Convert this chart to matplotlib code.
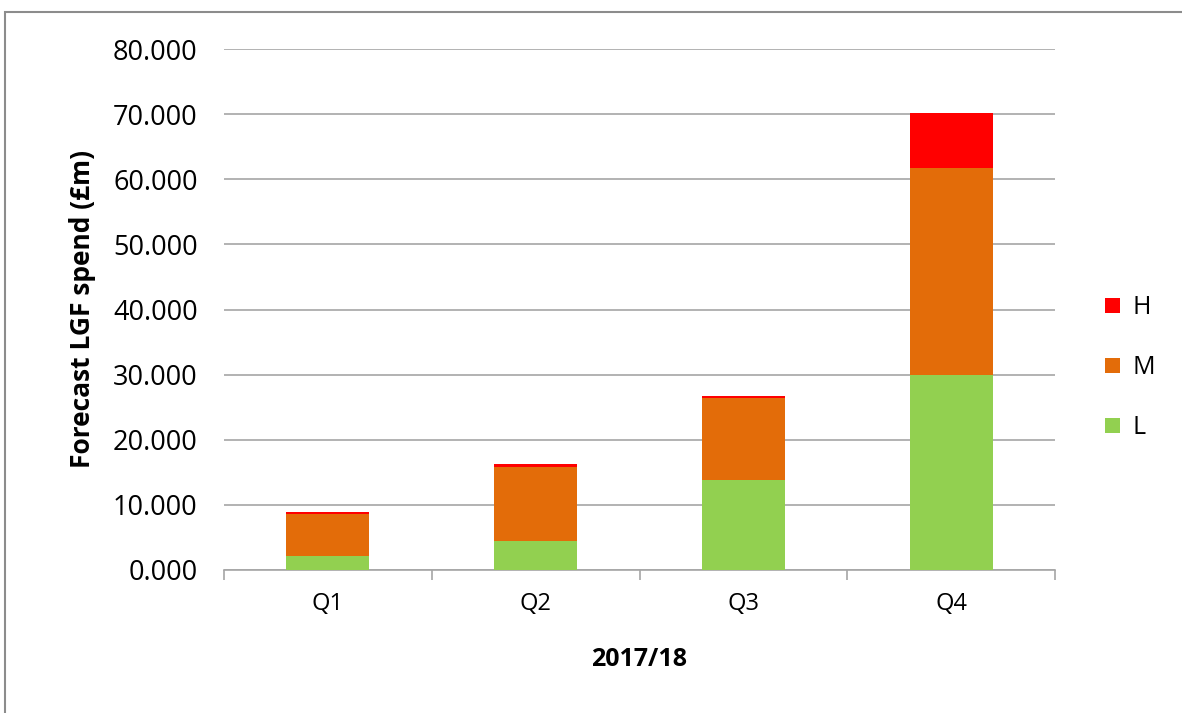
import matplotlib.pyplot as plt
from matplotlib.patches import Rectangle
import numpy as np

quarters = ['Q1', 'Q2', 'Q3', 'Q4']
low = [2.15, 4.4, 13.8, 29.9]
medium = [6.5, 11.4, 12.65, 31.8]
high = [0.3, 0.45, 0.3, 8.4]

plt.rcParams['font.family'] = ['Open Sans', 'DejaVu Sans']

fig = plt.figure(figsize=(11.82, 7.13), dpi=100)
ax = fig.add_axes([224 / 1182, 1 - 570 / 713, (1055 - 224) / 1182, (570 - 49) / 713])

# outer chart frame
fig.patches.append(Rectangle((5 / 1182, -0.05), 1.1, 1 - 12 / 713 + 0.05,
                             transform=fig.transFigure, fill=False,
                             edgecolor='#8c8c8c', linewidth=1.5))

x = np.arange(len(quarters))
w = 0.4
bottom_h = np.array(low) + np.array(medium)
ax.bar(x, low, w, color='#92d050', label='L', zorder=3)
ax.bar(x, medium, w, bottom=low, color='#e36c09', label='M', zorder=3)
ax.bar(x, high, w, bottom=bottom_h, color='#ff0000', label='H', zorder=3)

ax.set_xlim(-0.5, 3.5)
ax.set_ylim(0, 80)
ax.set_yticks(range(0, 81, 10))
ax.set_yticklabels([f'{v}.000' for v in range(0, 81, 10)], fontsize=19.5)
ax.set_xticks(x)
ax.set_xticklabels(quarters, fontsize=17)
ax.set_xticks([-0.5, 0.5, 1.5, 2.5, 3.5], minor=True)
ax.tick_params(axis='x', which='major', length=0, pad=16)
ax.tick_params(axis='x', which='minor', length=7, color='#a6a6a6', width=1.2)
ax.tick_params(axis='y', length=0, pad=19)

ax.grid(axis='y', color='#a6a6a6', linewidth=1.2, zorder=0)
for s in ['top', 'right', 'left']:
    ax.spines[s].set_visible(False)
ax.spines['bottom'].set_color('#a6a6a6')
ax.spines['bottom'].set_linewidth(1.2)

ax.set_ylabel('Forecast LGF spend (£m)', fontsize=19, fontweight='bold', labelpad=12)
ax.set_xlabel('2017/18', fontsize=18, fontweight='bold', labelpad=22)

handles, labels = ax.get_legend_handles_labels()
ax.legend(handles[::-1], labels[::-1], loc='center left', bbox_to_anchor=(1.033, 0.388),
          frameon=False, fontsize=18, handlelength=0.6, handleheight=0.6,
          labelspacing=1.4, handletextpad=0.5)

fig.savefig('out.png', dpi=100)
